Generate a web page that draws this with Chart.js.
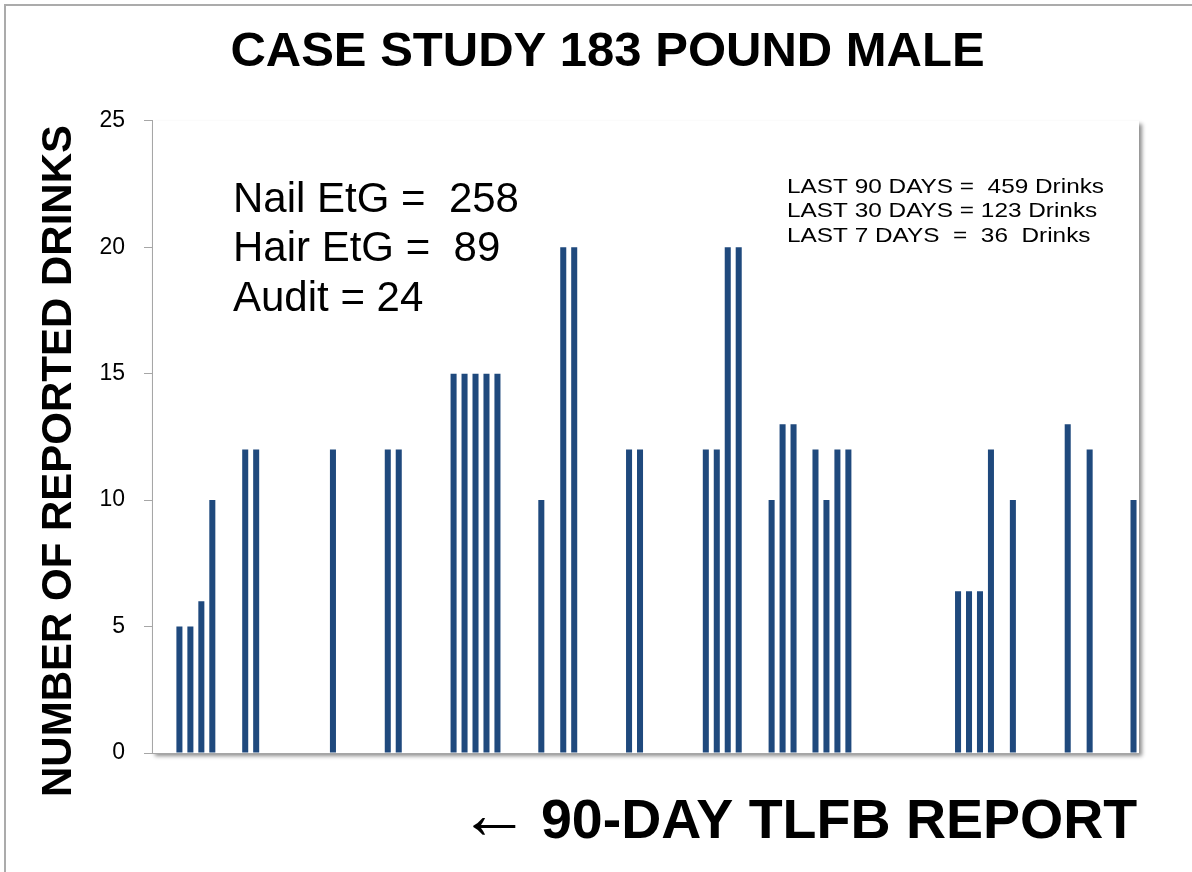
<!DOCTYPE html>
<html>
<head>
<meta charset="utf-8">
<script src="https://cdn.jsdelivr.net/npm/chart.js@4.4.1/dist/chart.umd.min.js"></script>
<style>
  html, body { margin: 0; padding: 0; background: #fff; overflow: hidden; }
  .wrap { position: relative; width: 1192px; height: 872px; }
  .frame { position: absolute; left: 4px; top: 4px; width: 1300px; height: 1000px; border: 2px solid #ababab; }
  canvas { position: absolute; left: 0; top: 0; }
</style>
</head>
<body>
<div class="wrap">
  <div class="frame"></div>
  <canvas id="tlfb" width="1192" height="872"></canvas>
</div>
<script>
const dayCount = 90;
// days (1..90) on which drinks were reported, and how many
const drinkDays = [3, 4, 5, 6, 9, 10, 17, 22, 23, 28, 29, 30, 31, 32, 36, 38, 39, 44, 45,
  51, 52, 53, 54, 57, 58, 59, 61, 62, 63, 64, 74, 75, 76, 77, 79, 84, 86, 90];
const drinkCounts = [5, 5, 6, 10, 12, 12, 12, 12, 12, 15, 15, 15, 15, 15, 10, 20, 20, 12, 12,
  12, 12, 20, 20, 10, 13, 13, 12, 10, 12, 12, 6.4, 6.4, 6.4, 12, 10, 13, 12, 10];
const yTicks = [0, 5, 10, 15, 20, 25];

const biomarkers = ['Nail EtG =  258', 'Hair EtG =  89', 'Audit = 24'];
const totals = ['LAST 90 DAYS =  459 Drinks', 'LAST 30 DAYS = 123 Drinks', 'LAST 7 DAYS  =  36  Drinks'];

const FONT = '"Liberation Sans", Arial, sans-serif';

const labels = [];
const values = [];
for (let d = 1; d <= dayCount; d++) {
  labels.push(String(d));
  const i = drinkDays.indexOf(d);
  values.push(i >= 0 ? drinkCounts[i] : null);
}

// white plot box with a soft shadow, like the office chart
const plotShadow = {
  id: 'plotShadow',
  beforeDraw(chart) {
    const {ctx, chartArea: a} = chart;
    ctx.save();
    ctx.shadowColor = 'rgba(0,0,0,0.45)';
    ctx.shadowBlur = 4;
    ctx.shadowOffsetX = 3;
    ctx.shadowOffsetY = 3;
    ctx.fillStyle = '#fff';
    ctx.fillRect(a.left, a.top, a.right - a.left, a.bottom - a.top);
    ctx.restore();
  }
};

const annotations = {
  id: 'annotations',
  afterDraw(chart) {
    const ctx = chart.ctx;
    ctx.save();
    ctx.fillStyle = '#000';
    ctx.textBaseline = 'alphabetic';

    // y axis title
    ctx.save();
    ctx.translate(71, 461);
    ctx.rotate(-Math.PI / 2);
    ctx.font = 'bold 42px ' + FONT;
    ctx.textAlign = 'center';
    ctx.fillText('NUMBER OF REPORTED DRINKS', 0, 0);
    ctx.restore();

    ctx.font = '42px ' + FONT;
    ctx.textAlign = 'left';
    const baseY = [212, 261, 311];
    biomarkers.forEach((t, i) => ctx.fillText(t, 233, baseY[i]));

    ctx.font = '21px ' + FONT;
    const totY = [193, 217, 242];
    totals.forEach((t, i) => {
      ctx.save();
      ctx.translate(787, totY[i]);
      ctx.scale(1.16, 1);
      ctx.fillText(t, 0, 0);
      ctx.restore();
    });

    // bottom caption
    ctx.font = '71px ' + FONT;
    ctx.textAlign = 'right';
    ctx.fillText('\u2190', 530, 838);
    ctx.font = 'bold 55.5px ' + FONT;
    ctx.textAlign = 'left';
    ctx.fillText('90-DAY TLFB REPORT', 541, 838);
    ctx.restore();
  }
};

const chart = new Chart(document.getElementById('tlfb'), {
  type: 'bar',
  data: {
    labels: labels,
    datasets: [{
      label: 'Reported drinks',
      data: values,
      backgroundColor: '#1f497d',
      borderWidth: 0,
      barPercentage: 0.55,
      categoryPercentage: 1.0
    }]
  },
  options: {
    responsive: false,
    animation: false,
    layout: { padding: { left: 76, right: 53, top: 0, bottom: 119 } },
    plugins: {
      legend: { display: false },
      tooltip: { enabled: false },
      title: {
        display: true,
        text: 'CASE STUDY 183 POUND MALE',
        color: '#000',
        font: { family: FONT, size: 49, weight: 'bold', lineHeight: 1.2 },
        padding: { top: 23, bottom: 39 }
      }
    },
    scales: {
      x: {
        grid: { display: false },
        ticks: { display: false },
        border: { display: true, color: '#a6a6a6', width: 1 },
        afterFit(s) { s.height = 0; }
      },
      y: {
        min: 0,
        max: 25,
        afterBuildTicks(s) { s.ticks = yTicks.map(v => ({ value: v })); },
        ticks: {
          color: '#000',
          padding: 19,
          font: { family: FONT, size: 23 }
        },
        grid: { drawOnChartArea: false, drawTicks: true, tickLength: 8, color: '#a6a6a6' },
        border: { display: true, color: '#a6a6a6', width: 1 },
        afterFit(s) { s.width = 76; }
      }
    }
  },
  plugins: [plotShadow, annotations]
});
</script>
</body>
</html>
